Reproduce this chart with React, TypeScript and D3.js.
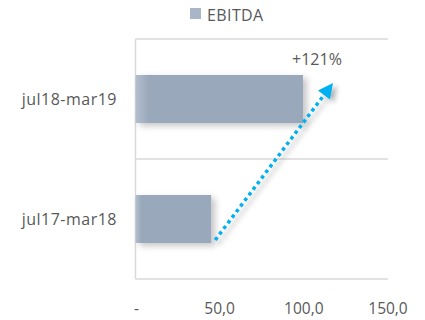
import React from 'react';
import * as d3 from 'd3';

const categories = ['jul18-mar19', 'jul17-mar18'];
const ebitda = [99.5, 45.0];
const xTicks = [0, 50, 100, 150];
const xTickLabels = ['-', '50,0', '100,0', '150,0'];
const seriesName = 'EBITDA';

const W = 425;
const H = 320;
const textColor = '#595959';
const gridColor = '#d9d9d9';
const barColor = '#9aa8bb';
const arrowColor = '#00b0f0';
const font = '"Open Sans", "Noto Sans", sans-serif';

const App: React.FC = () => {
  const x = d3.scaleLinear().domain([0, 150]).range([135.5, 388]);
  const y = d3.scaleBand<string>().domain(categories).range([39, 279]).paddingInner(0.6).paddingOuter(0.3);
  const bw = y.bandwidth();
  const step = y.step();

  // boundaries between category bands
  const edges = categories.map(c => (y(c) || 0) - step * 0.3);
  edges.push(y.range()[1]);

  // arrow from the old bar to the new one
  const oldV = ebitda[1];
  const newV = ebitda[0];
  const x0 = x(oldV) + 4;
  const y0 = (y(categories[1]) || 0) + bw - 3;
  const x1 = x(newV) + 30;
  const y1 = (y(categories[0]) || 0) + 8;
  const ang = Math.atan2(y1 - y0, x1 - x0);
  const headLen = 15;
  const headW = 7.5;
  const bx = x1 - headLen * Math.cos(ang);
  const by = y1 - headLen * Math.sin(ang);
  const px = -Math.sin(ang);
  const py = Math.cos(ang);
  const head = [
    [x1, y1],
    [bx + px * headW, by + py * headW],
    [bx - px * headW, by - py * headW],
  ].map(p => p.join(',')).join(' ');
  const growth = Math.round((newV / oldV - 1) * 100);

  return (
    <svg width={W} height={H} style={{ position: 'absolute', left: 0, top: 0, background: '#fff' }} fontFamily={font}>
      <defs>
        <linearGradient id="barGrad" x1="0" x2="1" y1="0" y2="0">
          <stop offset="0" stopColor="#b3bfcf" />
          <stop offset="0.08" stopColor={barColor} />
          <stop offset="1" stopColor={barColor} />
        </linearGradient>
        <filter id="barShadow" x="-10%" y="-20%" width="130%" height="150%">
          <feDropShadow dx="4" dy="3" stdDeviation="3" floodColor="#000" floodOpacity="0.22" />
        </filter>
        <filter id="arrowShadow" x="-20%" y="-20%" width="150%" height="150%">
          <feDropShadow dx="4" dy="3" stdDeviation="2.5" floodColor="#000" floodOpacity="0.3" />
        </filter>
      </defs>

      {/* legend */}
      <rect x={190} y={8} width={11} height={11} fill="#a9b6c8" />
      <text x={207} y={20.5} fontSize={16} fill={textColor} letterSpacing={0.4}>{seriesName}</text>

      {/* grid */}
      {edges.map((e, i) => (
        <line key={i} x1={x(0)} x2={x(150)} y1={e} y2={e} stroke={gridColor} strokeWidth={1.5} />
      ))}
      <line x1={x(0)} x2={x(0)} y1={edges[0]} y2={edges[edges.length - 1]} stroke={gridColor} strokeWidth={1.5} />

      {/* bars */}
      {categories.map((c, i) => (
        <rect key={c} x={x(0)} y={y(c)} width={x(ebitda[i]) - x(0)} height={bw}
          fill="url(#barGrad)" filter="url(#barShadow)" />
      ))}

      {/* category labels */}
      {categories.map(c => (
        <text key={c} x={117} y={(y(c) || 0) + bw / 2} dy="0.35em" textAnchor="end" fontSize={16}
          fill={textColor} letterSpacing={0.5}>{c}</text>
      ))}

      {/* x tick labels */}
      {xTicks.map((t, i) => (
        <text key={t} x={x(t) + (i === 0 ? 1 : 0)} y={314} textAnchor="middle" fontSize={15.5} fill={textColor}>
          {xTickLabels[i]}
        </text>
      ))}

      {/* growth arrow */}
      <g filter="url(#arrowShadow)">
        <line x1={x0} y1={y0} x2={bx} y2={by} stroke={arrowColor} strokeWidth={3.5} strokeDasharray="3.5 3.5" />
        <polygon points={head} fill={arrowColor} />
      </g>
      <text x={x1 - 16} y={y1 - 18.5} textAnchor="middle" fontSize={16} fill={textColor}>+{growth}%</text>
    </svg>
  );
};

export default App;
